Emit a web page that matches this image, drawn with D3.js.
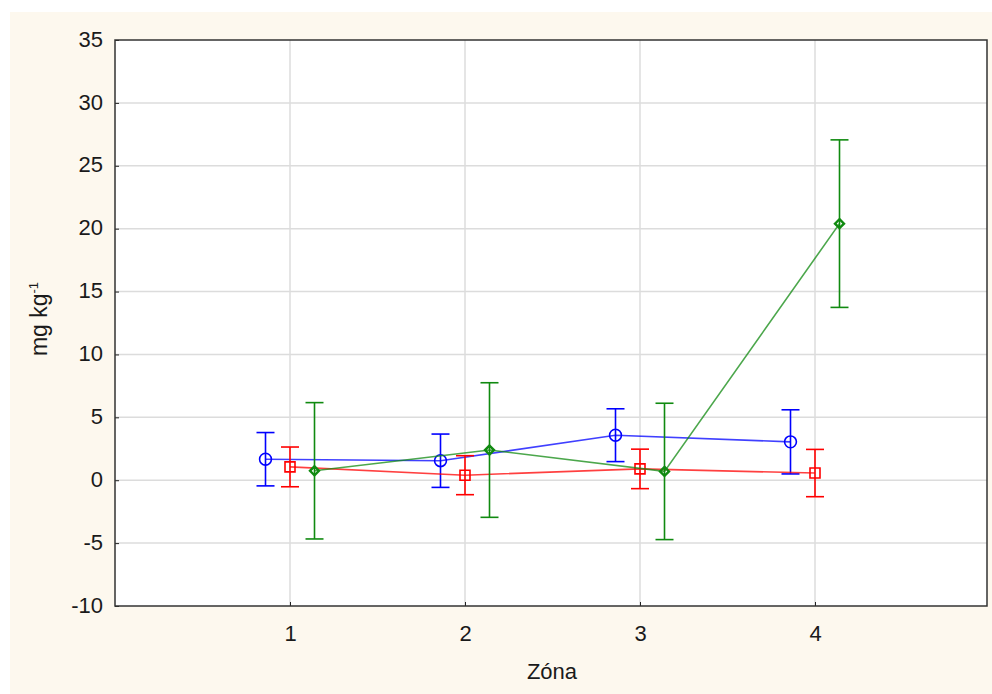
<!DOCTYPE html>
<html>
<head>
<meta charset="utf-8">
<script src="https://cdn.jsdelivr.net/npm/d3@7"></script>
<style>
  html, body { margin: 0; padding: 0; background: #ffffff; }
  svg { display: block; }
  svg text { font-family: Arial, "Liberation Sans", sans-serif; }
</style>
</head>
<body>
<svg id="chart" width="992" height="694"></svg>
<script>
// Zones on the x axis
const zones = [1, 2, 3, 4];

// Means and half-widths of the error bars (mg kg-1) for each series
const blueMeans = [1.67, 1.55, 3.58, 3.05];
const blueErr   = [2.12, 2.12, 2.10, 2.55];
const redMeans  = [1.06, 0.40, 0.90, 0.57];
const redErr    = [1.58, 1.55, 1.57, 1.88];
const greenMeans = [0.75, 2.40, 0.70, 20.40];
const greenErr   = [5.42, 5.35, 5.42, 6.66];

const yTicks = [-10, -5, 0, 5, 10, 15, 20, 25, 30, 35];

const series = [
  { name: "blue",  means: blueMeans,  err: blueErr,  color: "#0000ff", offset: -0.14, marker: "circle" },
  { name: "red",   means: redMeans,   err: redErr,   color: "#ff0000", offset: 0,     marker: "square" },
  { name: "green", means: greenMeans, err: greenErr, color: "#108a10", offset: 0.14,  marker: "diamond" }
];

const svg = d3.select("#chart");
const W = 992, H = 694;
const FONT = "Arial, 'Liberation Sans', sans-serif";

// page background
svg.append("rect").attr("x", 10).attr("y", 12).attr("width", W - 10).attr("height", H - 12)
  .attr("fill", "#fdf8ee");

const plot = { left: 115, top: 40, right: 987, bottom: 606 };

const x = d3.scaleLinear().domain([1, 4]).range([290, 815]);
const y = d3.scaleLinear().domain([-10, 35]).range([plot.bottom, plot.top]);

svg.append("rect")
  .attr("x", plot.left).attr("y", plot.top)
  .attr("width", plot.right - plot.left).attr("height", plot.bottom - plot.top)
  .attr("fill", "#ffffff");

// grid
const grid = svg.append("g");
grid.selectAll("line.h").data(yTicks.slice(1, -1)).join("line")
  .attr("x1", plot.left).attr("x2", plot.right)
  .attr("y1", d => y(d)).attr("y2", d => y(d))
  .attr("stroke", "#dcdcdc").attr("stroke-width", 1.5);
grid.selectAll("line.v").data(zones).join("line")
  .attr("y1", plot.top).attr("y2", plot.bottom)
  .attr("x1", d => x(d)).attr("x2", d => x(d))
  .attr("stroke", "#dcdcdc").attr("stroke-width", 1.5);

// axes
const yAxis = d3.axisLeft(y).tickValues(yTicks).tickFormat(d => String(d)).tickSize(-4).tickPadding(12);
const gy = svg.append("g").attr("transform", `translate(${plot.left},0)`).call(yAxis)
  .attr("font-family", FONT).attr("font-size", 22);
gy.select(".domain").remove();
gy.selectAll("text").attr("fill", "#1a1a1a").attr("dy", "0.28em");
gy.selectAll("line").attr("stroke", "#222");

const xAxis = d3.axisBottom(x).tickValues(zones).tickFormat(d => String(d)).tickSize(-4).tickPadding(0);
const gx = svg.append("g").attr("transform", `translate(0,${plot.bottom})`).call(xAxis)
  .attr("font-family", FONT).attr("font-size", 22);
gx.select(".domain").remove();
gx.selectAll("text").attr("fill", "#1a1a1a").attr("y", 35).attr("dy", "0");
gx.selectAll("line").attr("stroke", "#222");

// frame
svg.append("rect")
  .attr("x", plot.left).attr("y", plot.top)
  .attr("width", plot.right - plot.left).attr("height", plot.bottom - plot.top)
  .attr("fill", "none").attr("stroke", "#333").attr("stroke-width", 1.5);

// axis titles
svg.append("text").attr("x", 552).attr("y", 679).attr("text-anchor", "middle")
  .attr("font-size", 22).attr("fill", "#1a1a1a").text("Zóna");

const yt = svg.append("text")
  .attr("transform", `translate(47,319) rotate(-90)`)
  .attr("text-anchor", "middle").attr("font-size", 23).attr("fill", "#1a1a1a");
yt.append("tspan").text("mg kg");
yt.append("tspan").attr("font-size", 13).attr("dy", -9).text("-1");

// series
const gS = svg.append("g");
series.forEach(s => {
  const g = gS.append("g");
  const pts = zones.map((z, i) => ({ z, m: s.means[i], e: s.err[i] }));
  const px = d => x(d.z + s.offset);

  g.append("path")
    .attr("d", d3.line().x(px).y(d => y(d.m))(pts))
    .attr("fill", "none").attr("stroke", s.color).attr("stroke-width", 1.6).attr("stroke-opacity", 0.75);

  const eb = g.selectAll("g.eb").data(pts).join("g").attr("stroke", s.color).attr("stroke-width", 1.6);
  eb.append("line").attr("x1", px).attr("x2", px).attr("y1", d => y(d.m + d.e)).attr("y2", d => y(d.m - d.e));
  eb.append("line").attr("x1", d => px(d) - 9).attr("x2", d => px(d) + 9)
    .attr("y1", d => y(d.m + d.e)).attr("y2", d => y(d.m + d.e));
  eb.append("line").attr("x1", d => px(d) - 9).attr("x2", d => px(d) + 9)
    .attr("y1", d => y(d.m - d.e)).attr("y2", d => y(d.m - d.e));

  const mk = g.selectAll("path.mk").data(pts).join("path")
    .attr("transform", d => `translate(${px(d)},${y(d.m)})`)
    .attr("fill", "none").attr("stroke", s.color).attr("stroke-width", 1.6);
  if (s.marker === "circle") mk.attr("d", d3.symbol(d3.symbolCircle, 110)());
  else if (s.marker === "square") mk.attr("d", d3.symbol(d3.symbolSquare, 100)());
  else mk.attr("d", "M0,-4.5L4.5,0L0,4.5L-4.5,0Z").attr("stroke-width", 2.4);
});
</script>
</body>
</html>
